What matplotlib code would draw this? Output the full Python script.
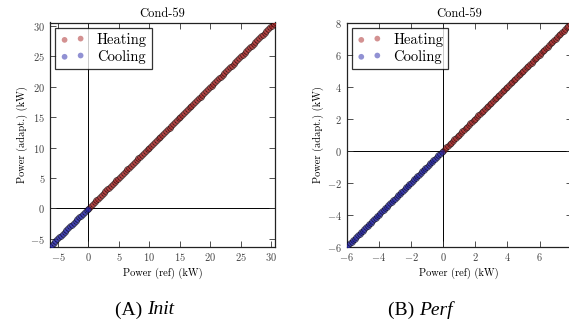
import matplotlib
matplotlib.use("Agg")
import matplotlib.pyplot as plt

plt.rcParams['font.family'] = ['cmr10', 'DejaVu Serif']
plt.rcParams['mathtext.fontset'] = 'cm'
plt.rcParams['axes.formatter.use_mathtext'] = True
plt.rcParams['axes.unicode_minus'] = True

title = "Cond-59"
xlabel = "Power (ref) (kW)"
ylabel = "Power (adapt.) (kW)"
legend_labels = ["Heating", "Cooling"]
captions = [("(A)", "Init"), ("(B)", "Perf")]

# Panel A (Init): reference power values; adapted power matches reference
heat_ref_a = [0.1, 0.4, 0.7, 1.0, 1.3, 1.6, 1.9, 2.2, 2.5, 2.8,
              3.1, 3.4, 3.7, 4.0, 4.3, 4.6, 4.9, 5.2, 5.5, 5.8,
              6.1, 6.4, 6.7, 7.0, 7.3, 7.6, 7.9, 8.2, 8.5, 8.8,
              9.1, 9.4, 9.7, 10.0, 10.3, 10.6, 10.9, 11.2, 11.5, 11.8,
              12.1, 12.4, 12.7, 13.0, 13.3, 13.6, 13.9, 14.2, 14.5, 14.8,
              15.1, 15.4, 15.7, 16.0, 16.3, 16.6, 16.9, 17.2, 17.5, 17.8,
              18.1, 18.4, 18.7, 19.0, 19.3, 19.6, 19.9, 20.2, 20.5, 20.8,
              21.1, 21.4, 21.7, 22.0, 22.3, 22.6, 22.9, 23.2, 23.5, 23.8,
              24.1, 24.4, 24.7, 25.0, 25.3, 25.6, 25.9, 26.2, 26.5, 26.8,
              27.1, 27.4, 27.7, 28.0, 28.3, 28.6, 28.9, 29.2, 29.5, 29.8,
              30.1, 30.4, 30.6]
heat_adp_a = list(heat_ref_a)
cool_ref_a = [-6.3, -6.0, -5.7, -5.4, -5.1, -4.8, -4.5, -4.2, -3.9, -3.6,
              -3.3, -3.0, -2.7, -2.4, -2.1, -1.8, -1.5, -1.2, -0.9, -0.6,
              -0.3, -0.1]
cool_adp_a = list(cool_ref_a)
lim_a = (-6.3, 30.6)
ticks_a = [-5, 0, 5, 10, 15, 20, 25, 30]

# Panel B (Perf)
heat_ref_b = [0.0, 0.1, 0.2, 0.3, 0.4, 0.5, 0.6, 0.7, 0.8, 0.9,
              1.0, 1.1, 1.2, 1.3, 1.4, 1.5, 1.6, 1.7, 1.8, 1.9,
              2.0, 2.1, 2.2, 2.3, 2.4, 2.5, 2.6, 2.7, 2.8, 2.9,
              3.0, 3.1, 3.2, 3.3, 3.4, 3.5, 3.6, 3.7, 3.8, 3.9,
              4.0, 4.1, 4.2, 4.3, 4.4, 4.5, 4.6, 4.7, 4.8, 4.9,
              5.0, 5.1, 5.2, 5.3, 5.4, 5.5, 5.6, 5.7, 5.8, 5.9,
              6.0, 6.1, 6.2, 6.3, 6.4, 6.5, 6.6, 6.7, 6.8, 6.9,
              7.0, 7.1, 7.2, 7.3, 7.4, 7.5, 7.6, 7.7, 7.8, 7.9, 8.0]
heat_adp_b = list(heat_ref_b)
cool_ref_b = [-6.0, -5.9, -5.8, -5.7, -5.6, -5.5, -5.4, -5.3, -5.2, -5.1,
              -5.0, -4.9, -4.8, -4.7, -4.6, -4.5, -4.4, -4.3, -4.2, -4.1,
              -4.0, -3.9, -3.8, -3.7, -3.6, -3.5, -3.4, -3.3, -3.2, -3.1,
              -3.0, -2.9, -2.8, -2.7, -2.6, -2.5, -2.4, -2.3, -2.2, -2.1,
              -2.0, -1.9, -1.8, -1.7, -1.6, -1.5, -1.4, -1.3, -1.2, -1.1,
              -1.0, -0.9, -0.8, -0.7, -0.6, -0.5, -0.4, -0.3, -0.2, -0.1]
cool_adp_b = list(cool_ref_b)
lim_b = (-6, 8)
ticks_b = [-6, -4, -2, 0, 2, 4, 6, 8]

heat_color = '#a82424'
cool_color = '#2424a8'

fig = plt.figure(figsize=(5.69, 3.33), dpi=100)
ax_a = fig.add_axes([50 / 569, 86.5 / 333, 225 / 569, 224 / 333])
ax_b = fig.add_axes([346.7 / 569, 86.5 / 333, 225 / 569, 224 / 333])

panels = [
    (ax_a, heat_ref_a, heat_adp_a, cool_ref_a, cool_adp_a, lim_a, ticks_a),
    (ax_b, heat_ref_b, heat_adp_b, cool_ref_b, cool_adp_b, lim_b, ticks_b),
]

for ax, hr, ha, cr, ca, lim, ticks in panels:
    ax.axhline(0, color='black', lw=0.7, zorder=1)
    ax.axvline(0, color='black', lw=0.7, zorder=1)
    ax.scatter(hr, ha, s=17, c=heat_color, alpha=0.6, edgecolors='black',
               linewidths=0.5, label=legend_labels[0], zorder=3)
    ax.scatter(cr, ca, s=17, c=cool_color, alpha=0.6, edgecolors='black',
               linewidths=0.5, label=legend_labels[1], zorder=3)
    ax.set_xlim(lim)
    ax.set_ylim(lim)
    ax.set_xticks(ticks)
    ax.set_yticks(ticks)
    ax.tick_params(direction='in', top=True, right=True, length=4, width=0.6,
                   labelsize=7.5, colors='#333333', labelcolor='#444444')
    for sp in ax.spines.values():
        sp.set_linewidth(0.9)
        sp.set_color('#222222')
    ax.set_title(title, fontsize=9, pad=4)
    ax.set_xlabel(xlabel, fontsize=7.5, labelpad=3)
    ax.set_ylabel(ylabel, fontsize=7.5, labelpad=2)
    leg = ax.legend(loc='upper left', scatterpoints=2, fontsize=10.5, frameon=True,
                    fancybox=False, borderaxespad=0.35, handletextpad=0.8,
                    borderpad=0.35, labelspacing=0.2, handlelength=1.7)
    leg.get_frame().set_edgecolor('black')
    leg.get_frame().set_linewidth(0.9)
    for h in leg.legend_handles:
        h.set_linewidths(0)
        h.set_alpha(0.5)

cap_y = 23 / 333
for (label, word), xc in zip(captions, [145 / 569, 417 / 569]):
    fig.text(xc + 0.003, cap_y, label + " ", ha='right', va='center', fontsize=14,
             family='Liberation Serif')
    fig.text(xc + 0.003, cap_y, word, ha='left', va='center', fontsize=14,
             family='Liberation Serif', style='italic')

fig.savefig('out.png', dpi=100)
